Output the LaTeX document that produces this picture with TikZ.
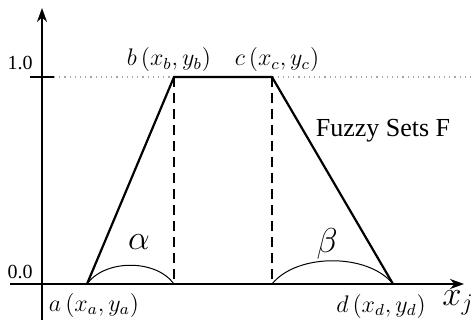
\documentclass[tikz,border=0pt]{standalone}
\usepackage{fontspec}
\setmainfont{Liberation Serif}
\usepackage{tikz}
\usetikzlibrary{arrows.meta,positioning,calc}
\tikzset{
  axisline/.style={line width=1.1pt, -{Stealth[length=7pt,width=5pt]}},
  memberline/.style={line width=1.1pt},
  dropline/.style={line width=1pt, dashed, dash pattern=on 5pt off 3pt},
  anglearc/.style={line width=0.5pt},
  ptlabel/.style={font=\large}
}
\begin{document}
\begin{tikzpicture}[x=0.5pt,y=-0.5pt]
\useasboundingbox (0,0) rectangle (474,325);
% --- axes ---
\coordinate (Oleft) at (10,284);
\coordinate (Xend) at (464,284);
\coordinate (Ybot) at (42,320);
\coordinate (Yend) at (42,8);
\draw[axisline] (Oleft) -- (Xend);
\draw[axisline] (Ybot) -- (Yend);
% --- level 1.0 ---
\coordinate (TickL) at (30,77);
\coordinate (TickR) at (54,77);
\coordinate (Gridend) at (474,77);
\draw[line width=1.1pt] (TickL) -- (TickR);
\draw[gray!70, dotted, line width=0.6pt] (TickR) -- (Gridend);
\node (one) at (20,63) {1.0};
\node (zero) at (20,272) {0.0};
% --- trapezoid ---
\coordinate (A) at (87,284);
\coordinate (B) at (174,77);
\coordinate (C) at (272,77);
\coordinate (D) at (393,284);
\coordinate (Bfoot) at (174,284);
\coordinate (Cfoot) at (272,284);
\draw[memberline] (A) -- (B) -- (C) -- (D);
\draw[dropline] (B) -- (Bfoot);
\draw[dropline] (C) -- (Cfoot);
% --- angles ---
\draw[anglearc] (A) .. controls +(18,-25) and +(-18,-25) .. (Bfoot);
\draw[anglearc] (Cfoot) .. controls +(25,-31) and +(-25,-31) .. (D);
\node[font=\LARGE] (alpha) at (139,242) {$\alpha$};
\node[font=\LARGE] (beta) at (327,244) {$\beta$};
% --- point labels ---
\node[ptlabel] (labB) at (169,60) {$b\,(x_b,y_b)$};
\node[ptlabel] (labC) at (277,60) {$c\,(x_c,y_c)$};
\node[ptlabel] (labA) at (94,305) {$a\,(x_a,y_a)$};
\node[ptlabel] (labD) at (381,306) {$d\,(x_d,y_d)$};
\node[font=\LARGE] (xj) at (458,303) {$x_j$};
\node[font=\fontsize{13}{15}\selectfont] (fuzzy) at (383,131) {Fuzzy Sets F};
\end{tikzpicture}
\end{document}
